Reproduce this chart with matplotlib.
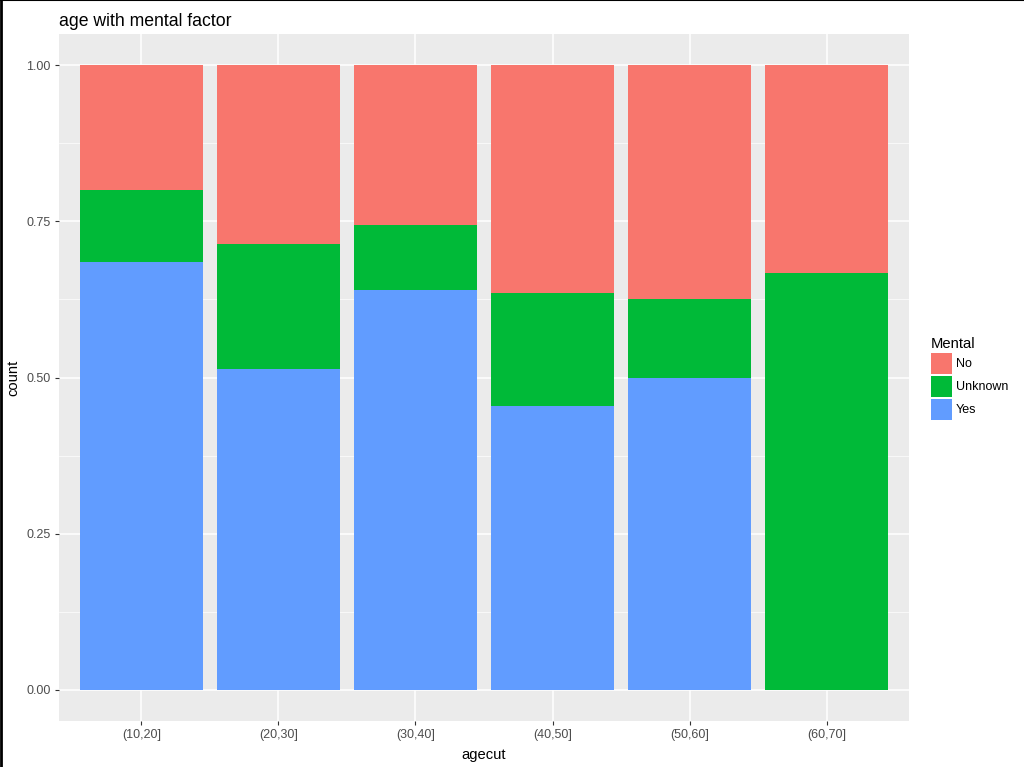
import numpy as np
import matplotlib
matplotlib.use("Agg")
import matplotlib.pyplot as plt
from matplotlib.lines import Line2D

plt.rcParams['font.family'] = ['Liberation Sans', 'DejaVu Sans']

agecut = ["(10,20]", "(20,30]", "(30,40]", "(40,50]", "(50,60]", "(60,70]"]
yes_frac = [0.685, 0.514, 0.640, 0.455, 0.500, 0.0]
unknown_frac = [0.115, 0.200, 0.104, 0.181, 0.125, 0.667]
no_frac = [0.200, 0.286, 0.256, 0.364, 0.375, 0.333]

colors = {"No": "#F8766D", "Unknown": "#00BA38", "Yes": "#619CFF"}

fig = plt.figure(figsize=(10.24, 7.67), dpi=100)
ax = fig.add_axes([59/1024, 46/767, 850/1024, 687/767])
ax.set_facecolor("#EBEBEB")

x = np.arange(len(agecut))
yes = np.array(yes_frac)
unk = np.array(unknown_frac)
no = np.array(no_frac)

b_yes = ax.bar(x, yes, width=0.9, color=colors["Yes"], zorder=3, label="Yes")
b_unk = ax.bar(x, unk, width=0.9, bottom=yes, color=colors["Unknown"], zorder=3, label="Unknown")
b_no = ax.bar(x, no, width=0.9, bottom=yes + unk, color=colors["No"], zorder=3, label="No")

ax.set_xlim(-0.6, len(agecut) - 0.4)
ax.set_ylim(-0.05, 1.05)
ax.set_xticks(x)
ax.set_xticklabels(agecut)
ax.set_yticks([0, 0.25, 0.5, 0.75, 1.0])
ax.set_yticklabels(["0.00", "0.25", "0.50", "0.75", "1.00"])
ax.set_yticks([0.125, 0.375, 0.625, 0.875], minor=True)

ax.grid(True, which="major", color="white", linewidth=1.1, zorder=1)
ax.grid(True, which="minor", axis="y", color="white", linewidth=0.5, zorder=1)
ax.set_axisbelow(True)
for s in ax.spines.values():
    s.set_visible(False)

ax.tick_params(axis="both", which="major", length=3, width=0.8, color="#333333",
               labelcolor="#4D4D4D", labelsize=9, pad=3)
ax.tick_params(axis="both", which="minor", length=0)

ax.set_xlabel("agecut", fontsize=10.6, labelpad=5)
ax.set_ylabel("count", fontsize=10.6, labelpad=4)
ax.set_title("age with mental factor", fontsize=12.7, loc="left", pad=6)

leg = ax.legend(handles=[b_no, b_unk, b_yes], labels=["No", "Unknown", "Yes"],
                title="Mental", loc="upper left",
                bbox_to_anchor=(931/1024, 1 - 337/767), bbox_transform=fig.transFigure,
                frameon=False, fontsize=9, title_fontsize=10.6,
                handlelength=1.68, handleheight=2.2, labelspacing=0.16,
                handletextpad=0.32, alignment="left", borderaxespad=0, borderpad=0)

# thin frame lines on top and left, as in the screenshot
fig.add_artist(Line2D([0, 1], [0.9995, 0.9995], transform=fig.transFigure, color="black", linewidth=1.5))
fig.add_artist(Line2D([0.0008, 0.0008], [0, 1], transform=fig.transFigure, color="black", linewidth=2))

fig.savefig("out.png", dpi=100)
